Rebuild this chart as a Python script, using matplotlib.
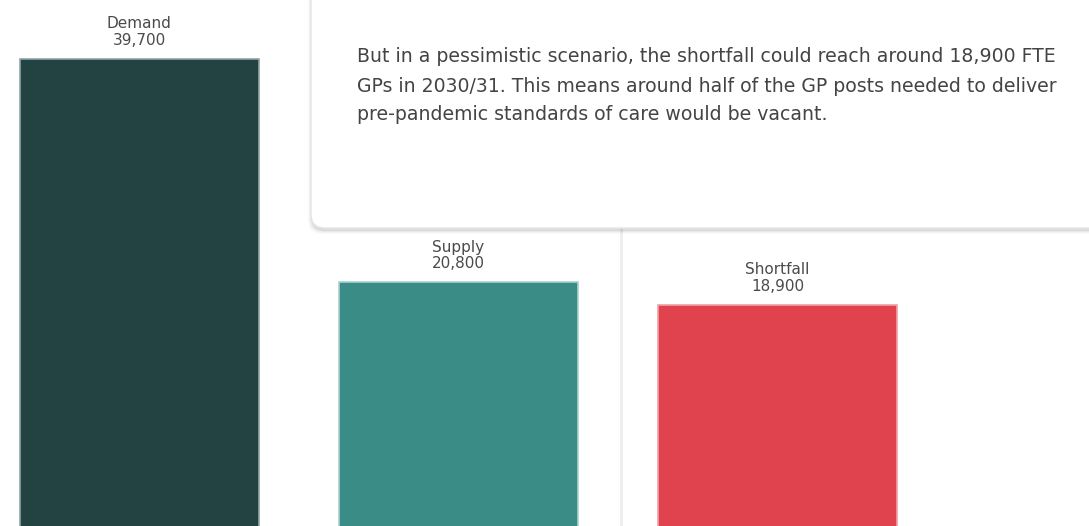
import matplotlib.pyplot as plt
from matplotlib.patches import FancyBboxPatch
from matplotlib.lines import Line2D

# data
categories = ["Demand", "Supply", "Shortfall"]
values = [39700, 20800, 18900]
colors = ["#224342", "#3a8c87", "#e0434d"]
note_lines = [
    "But in a pessimistic scenario, the shortfall could reach around 18,900 FTE",
    "GPs in 2030/31. This means around half of the GP posts needed to deliver",
    "pre-pandemic standards of care would be vacant.",
]

W, H = 1089, 526
fig = plt.figure(figsize=(W / 100, H / 100), dpi=100)
ax = fig.add_axes([0, 0, 1, 1])

x = range(len(categories))
ax.bar(x, values, width=0.75, color=colors, edgecolor=["#8fa5a4", "#a9d0cd", "#f0a0a6"],
       linewidth=1.2, zorder=2)

for i, (name, v) in enumerate(zip(categories, values)):
    ax.annotate(name + "\n" + f"{v:,}", (i, v), xytext=(0, 8), textcoords="offset points",
                ha="center", va="bottom", fontsize=11, color="#4a4a4a",
                linespacing=1.15, zorder=3)

ax.set_xlim(-0.437, 2.976)
ax.set_ylim(170, 44720)
ax.axis("off")

# thin divider line under the callout
fig.add_artist(Line2D([621 / W, 621 / W], [0, 1 - 228 / H], transform=fig.transFigure,
                      color="#eeeeee", linewidth=2, zorder=1))

# callout box with a soft shadow (display pixel coords)
for k, a in enumerate([0.05, 0.04, 0.03, 0.02]):
    s = FancyBboxPatch((311 - k, 526 - 228 - 3 - k), 900, 300,
                       boxstyle="round,pad=0,rounding_size=14", transform=None,
                       facecolor="black", edgecolor="none", alpha=a, zorder=4)
    fig.add_artist(s)
box = FancyBboxPatch((311, 526 - 228), 900, 300, boxstyle="round,pad=0,rounding_size=14",
                     transform=None, facecolor="white", edgecolor="#e6e6e6",
                     linewidth=1, zorder=5)
fig.add_artist(box)

for j, line in enumerate(note_lines):
    fig.text(357 / W, 1 - (57 + 29 * j) / H, line, ha="left", va="center",
             fontsize=13.6, color="#444444", zorder=6)

fig.savefig("out.png", dpi=100)
